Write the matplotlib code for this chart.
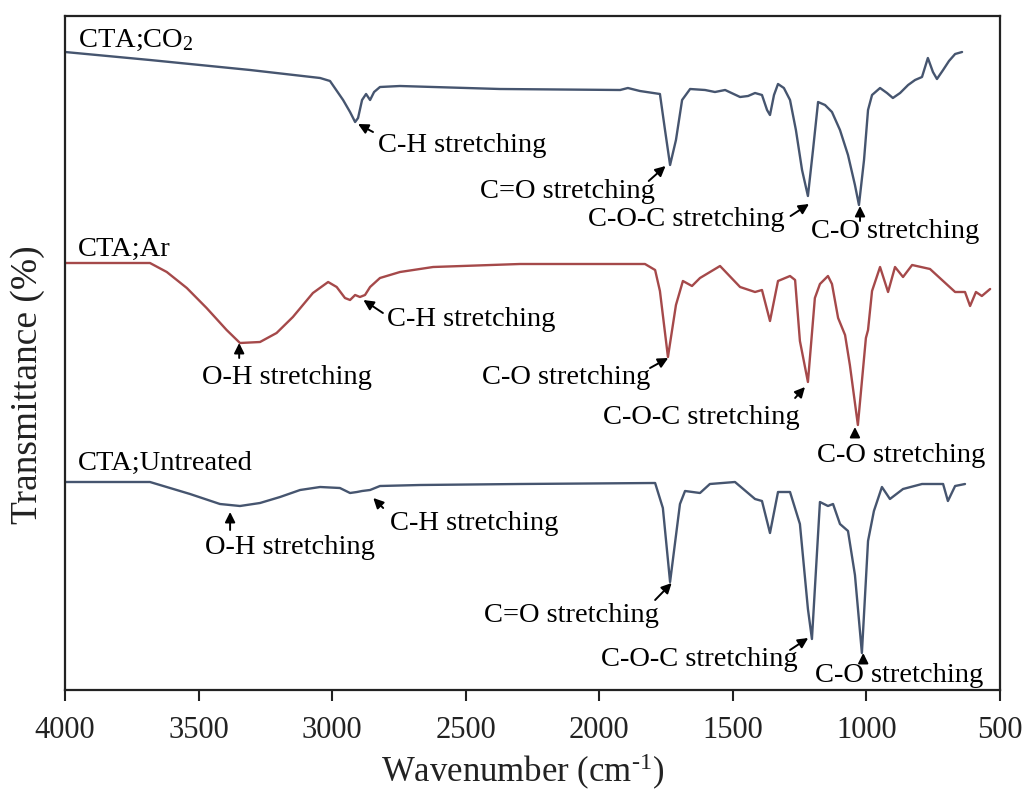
import matplotlib
matplotlib.use("Agg")
import matplotlib.pyplot as plt

plt.rcParams['font.family'] = ['Liberation Serif', 'DejaVu Serif']
plt.rcParams['mathtext.fontset'] = 'custom'
plt.rcParams['mathtext.rm'] = 'Liberation Serif'
plt.rcParams['mathtext.it'] = 'Liberation Serif:italic'

# ---------------- data ----------------
co2_wn = [4000, 3682, 3307, 3045, 3008, 2959, 2933, 2914, 2903, 2888, 2873, 2858, 2843, 2821,
          2746, 2372, 1922, 1893, 1848, 1773, 1754, 1735, 1713, 1690, 1660, 1604, 1567, 1529,
          1473, 1443, 1417, 1391, 1372, 1361, 1346, 1331, 1309, 1286, 1264, 1241, 1219, 1200,
          1181, 1155, 1129, 1099, 1069, 1043, 1028, 1009, 994, 979, 949, 923, 901, 874, 844,
          818, 792, 770, 751, 736, 713, 691, 668, 642]
co2_t = [638, 630, 620, 612, 609, 590, 578, 568, 572, 590, 596, 590, 598, 603,
         604, 601, 600, 602, 599, 596, 560, 525, 550, 590, 601, 600, 598, 600,
         593, 594, 597, 595, 580, 575, 595, 606, 602, 590, 560, 520, 494, 540,
         588, 585, 578, 560, 535, 505, 485, 530, 580, 595, 602, 597, 592, 597, 605,
         610, 613, 632, 618, 611, 620, 629, 636, 638]

ar_wn = [4000, 3682, 3619, 3544, 3470, 3395, 3345, 3270, 3208, 3147, 3072, 3015, 2983, 2952,
         2933, 2914, 2896, 2877, 2858, 2821, 2746, 2622, 2297, 1829, 1791, 1773, 1743, 1713,
         1687, 1653, 1623, 1548, 1473, 1417, 1391, 1361, 1331, 1286, 1267, 1249, 1219, 1193,
         1174, 1144, 1129, 1106, 1080, 1062, 1032, 1002, 994, 979, 949, 919, 893, 863, 829,
         762, 668, 631, 612, 590, 568, 537]
ar_t = [427, 427, 418, 402, 382, 360, 347, 348, 357, 373, 397, 408, 403, 392,
        390, 395, 393, 395, 403, 412, 418, 423, 426, 426, 420, 399, 333, 385,
        409, 404, 412, 424, 403, 398, 400, 369, 409, 414, 410, 349, 308, 392,
        406, 414, 406, 372, 355, 325, 265, 352, 360, 399, 423, 398, 423, 413, 425,
        421, 398, 398, 384, 398, 394, 401]

un_wn = [4000, 3682, 3532, 3420, 3345, 3270, 3195, 3120, 3045, 2971, 2933, 2907, 2888, 2858,
         2821, 2671, 2297, 1791, 1762, 1735, 1698, 1679, 1623, 1586, 1492, 1417, 1391, 1361,
         1331, 1286, 1249, 1219, 1204, 1174, 1144, 1125, 1099, 1069, 1043, 1017, 994, 972,
         942, 912, 863, 792, 713, 695, 668, 631]
un_t = [208, 208, 196, 186, 184, 187, 193, 200, 203, 202, 197, 198, 199, 200,
        204, 205, 206, 207, 182, 108, 186, 199, 197, 206, 208, 191, 189, 157,
        198, 198, 166, 81, 51, 188, 184, 186, 166, 159, 115, 37, 149, 179,
        203, 191, 201, 206, 206, 189, 204, 206]

sample_labels = ['CTA;CO$_\\mathregular{2}$', 'CTA;Ar', 'CTA;Untreated']
x_ticks = [4000, 3500, 3000, 2500, 2000, 1500, 1000, 500]

blue = '#46556f'
red = '#a5494a'

# ---------------- figure ----------------
fig = plt.figure(figsize=(10.27, 7.92), dpi=100)
ax = fig.add_axes([65 / 1027, 1 - 690 / 792, 935 / 1027, 674 / 792])

for wn, t, c in [(co2_wn, co2_t, blue), (ar_wn, ar_t, red), (un_wn, un_t, blue)]:
    ax.plot(wn, t, color=c, lw=1.7, solid_joinstyle='round', solid_capstyle='round')

ax.set_xlim(4000, 500)
ax.set_ylim(0, 674)
ax.set_xticks(x_ticks)
ax.set_xticklabels([str(t) for t in x_ticks])
ax.set_yticks([])
ax.tick_params(axis='x', direction='out', length=8, width=1.5, labelsize=22, pad=11,
               colors='#222222')
for s in ax.spines.values():
    s.set_linewidth(1.6)
    s.set_color('#222222')

fs = 20.5
# sample labels
for lab, yv in zip(sample_labels, [650, 441, 227]):
    ax.text(3951, yv, lab, fontsize=fs, ha='left', va='center')

arrow = dict(arrowstyle='-|>', color='black', lw=1.4, mutation_scale=15,
             shrinkA=0, shrinkB=0)

def note(text, head, tail, tx, ty, ha):
    ax.annotate('', xy=head, xytext=tail, arrowprops=arrow)
    ax.text(tx, ty, text, fontsize=fs, ha=ha, va='center')

# CTA;CO2
note('C-H stretching', (2903, 566), (2847, 558), 2828, 545, 'left')
note('C=O stretching', (1752, 524), (1815, 509), 1791, 498, 'right')
note('C-O-C stretching', (1215, 486), (1284, 474), 1305, 470, 'right')
note('C-O stretching', (1024, 484), (1024, 469), 1208, 458, 'left')

# CTA;Ar
note('O-H stretching', (3348, 347), (3348, 332), 3488, 312, 'left')
note('C-H stretching', (2883, 390), (2810, 377), 2796, 370, 'left')
note('C-O stretching', (1742, 332), (1810, 322), 1810, 313, 'right')
note('C-O-C stretching', (1230, 303), (1267, 292), 1249, 273, 'right')
note('C-O stretching', (1043, 263), (1043, 253), 1186, 235, 'left')

# CTA;Untreated
note('O-H stretching', (3382, 178), (3382, 160), 3476, 143, 'left')
note('C-H stretching', (2846, 192), (2809, 182), 2783, 167, 'left')
note('C=O stretching', (1729, 107), (1791, 90), 1776, 75, 'right')
note('C-O-C stretching', (1218, 52), (1286, 40), 1256, 30, 'right')
note('C-O stretching', (1012, 37), (1012, 27), 1193, 15, 'left')

fig.text(28 / 1027, 1 - 385 / 792, 'Transmittance (%)', rotation=90,
         fontsize=27, ha='center', va='center', color='#222222')
fig.text(523 / 1027, 1 - 772 / 792, 'Wavenumber (cm$^{\\text{-1}}$)',
         fontsize=25, ha='center', va='center', color='#222222')

fig.savefig('out.png', dpi=100)
